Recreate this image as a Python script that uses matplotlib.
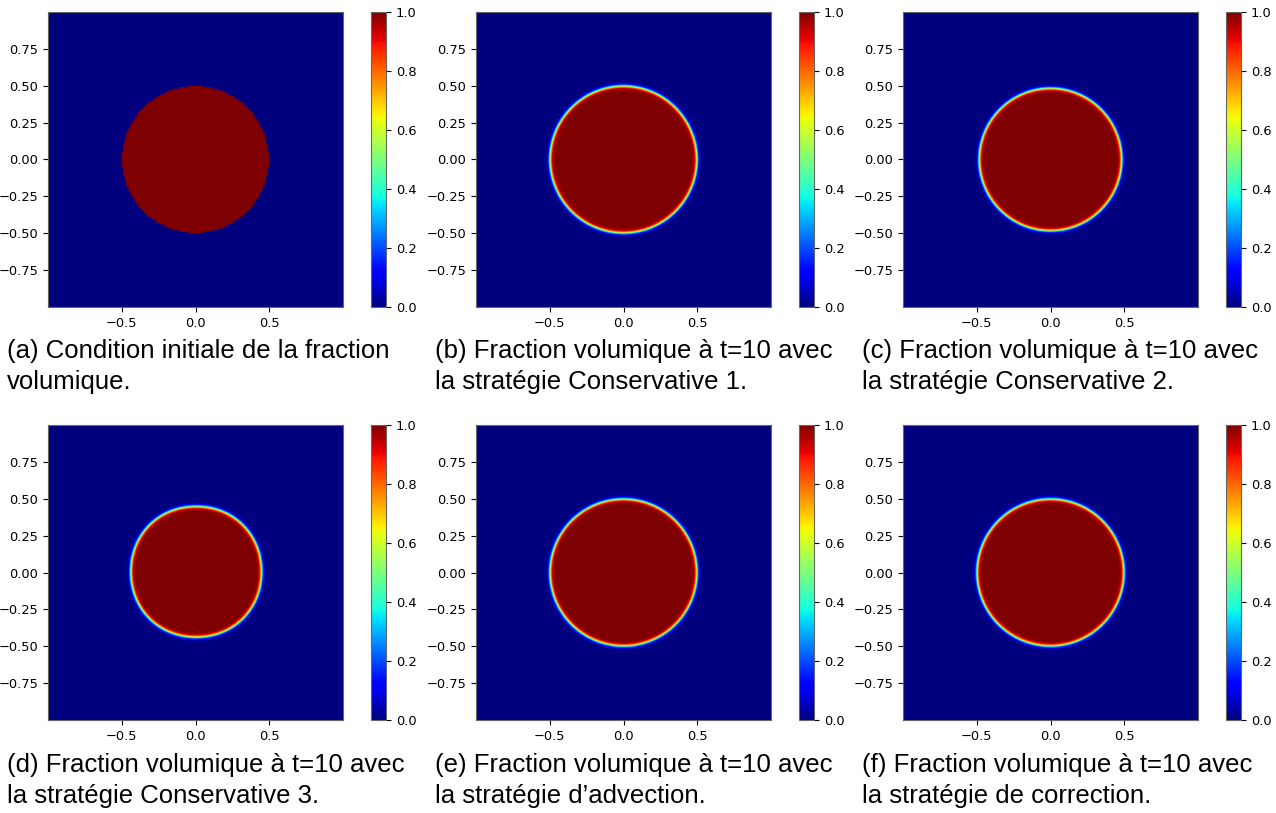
import numpy as np
import matplotlib
matplotlib.use("Agg")
import matplotlib.pyplot as plt

# panneaux : étiquettes et légendes
labels = ["(a)", "(b)", "(c)", "(d)", "(e)", "(f)"]
captions = [
    ["Condition initiale de la fraction", "volumique."],
    ["Fraction volumique à t=10 avec", "la stratégie Conservative 1."],
    ["Fraction volumique à t=10 avec", "la stratégie Conservative 2."],
    ["Fraction volumique à t=10 avec", "la stratégie Conservative 3."],
    ["Fraction volumique à t=10 avec", "la stratégie d’advection."],
    ["Fraction volumique à t=10 avec", "la stratégie de correction."],
]

# forme de la goutte (rayon, épaisseur d'interface, centre, exposant)
radii = [0.50, 0.50, 0.485, 0.445, 0.50, 0.50]
eps = [0.0, 0.0065, 0.0065, 0.0065, 0.0065, 0.0065]
cx = [0.0, 0.0, 0.0, 0.005, 0.0, 0.0]
cy = [0.0, 0.0, 0.0, 0.005, 0.0, 0.0]
shape_p = [2.0, 2.0, 2.0, 2.07, 2.0, 2.0]
grid_n = [200, 400, 400, 400, 400, 400]

xticks = [-0.5, 0.0, 0.5]
yticks = [-0.75, -0.5, -0.25, 0.0, 0.25, 0.5, 0.75]
cticks = [0.0, 0.2, 0.4, 0.6, 0.8, 1.0]

W, H = 1276, 813
fig = plt.figure(figsize=(W / 100, H / 100), dpi=100)


def px_axes(left, top, w, h):
    return fig.add_axes([left / W, 1 - (top + h) / H, w / W, h / H])


col_left = [48, 476, 903]
row_top = [12, 425]
cap_x = [7, 435, 862]
cap_base = [358, 772]


def field(i):
    n = grid_n[i]
    x = np.linspace(-1, 1, n)
    X, Y = np.meshgrid(x, x)
    p = shape_p[i]
    r = (np.abs(X - cx[i]) ** p + np.abs(Y - cy[i]) ** p) ** (1.0 / p)
    if eps[i] == 0:
        return (r <= radii[i]).astype(float)
    return 0.5 * (1 - np.tanh((r - radii[i]) / (2 * eps[i])))


for i in range(6):
    row, col = divmod(i, 3)
    ax = px_axes(col_left[col], row_top[row], 295, 295)
    im = ax.imshow(field(i), cmap="jet", vmin=0, vmax=1, origin="lower",
                   extent=[-1, 1, -1, 1],
                   interpolation="antialiased" if eps[i] == 0 else "bilinear")
    ax.set_xticks(xticks)
    ax.set_yticks(yticks)
    ax.tick_params(labelsize=9.4)
    for s in ax.spines.values():
        s.set_color("#666666")

    cax = px_axes(col_left[col] + 323, row_top[row], 15, 295)
    cb = fig.colorbar(im, cax=cax, ticks=cticks)
    cb.ax.tick_params(labelsize=9.4)
    cb.outline.set_edgecolor("#666666")

    y0 = 1 - cap_base[row] / H
    fig.text(cap_x[col] / W, y0, labels[i] + " " + captions[i][0],
             fontsize=18.5, family="Liberation Sans", va="baseline")
    fig.text(cap_x[col] / W, y0 - 31 / H, captions[i][1],
             fontsize=18.5, family="Liberation Sans", va="baseline")

fig.savefig("out.png", dpi=100)
